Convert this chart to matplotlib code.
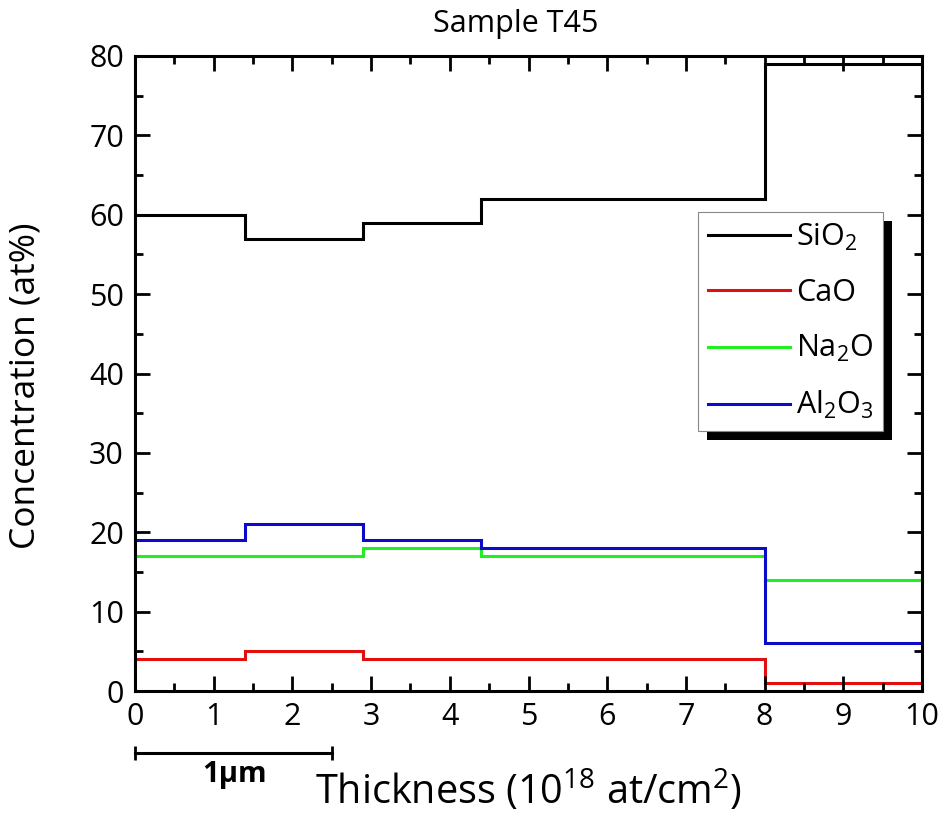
import matplotlib
matplotlib.use("Agg")
import matplotlib.pyplot as plt
from matplotlib.patches import Rectangle
from matplotlib.transforms import IdentityTransform, blended_transform_factory
from matplotlib.ticker import MultipleLocator

plt.rcParams['font.family'] = ['Open Sans', 'DejaVu Sans']
plt.rcParams['mathtext.fontset'] = 'custom'
plt.rcParams['mathtext.rm'] = 'Open Sans'
plt.rcParams['mathtext.it'] = 'Open Sans:italic'
plt.rcParams['mathtext.bf'] = 'Open Sans:bold'

# Layer boundaries (10^18 at/cm^2) and per-layer concentrations (at%)
edges = [0, 1.4, 2.9, 4.4, 8, 10]
sio2 = [60, 57, 59, 62, 79]
cao = [4, 5, 4, 4, 1]
na2o = [17, 17, 18, 17, 14]
al2o3 = [19, 21, 19, 18, 6]

series = [
    ("SiO$_2$", sio2, "#000000"),
    ("CaO", cao, "#e01010"),
    ("Na$_2$O", na2o, "#22ee22"),
    ("Al$_2$O$_3$", al2o3, "#0c0cc8"),
]

fig = plt.figure(figsize=(9.45, 8.21), dpi=100)
ax = fig.add_axes([0.1429, 0.1583, 0.8328, 0.7735])

for label, vals, color in series:
    ax.stairs(vals, edges, baseline=None, color=color, linewidth=2.2, label=label)

ax.set_xlim(0, 10)
ax.set_ylim(0, 80)
ax.xaxis.set_major_locator(MultipleLocator(1))
ax.xaxis.set_minor_locator(MultipleLocator(0.5))
ax.yaxis.set_major_locator(MultipleLocator(10))
ax.yaxis.set_minor_locator(MultipleLocator(5))
ax.tick_params(which='both', direction='in', top=True, right=True, width=2.0)
ax.tick_params(which='major', length=11, labelsize=22, pad=8)
ax.tick_params(which='minor', length=6)
for sp in ax.spines.values():
    sp.set_linewidth(2.2)

ax.set_title("Sample T45", fontsize=22, pad=17, x=0.484)
ax.set_ylabel("Concentration (at%)", fontsize=25.5)
ax.yaxis.set_label_coords(-0.117, 0.48)

bt = blended_transform_factory(ax.transData, ax.transAxes)

# x-axis label placed below the scale bar
ax.text(5.0, -0.158, "Thickness (10$^{18}$ at/cm$^2$)", fontsize=28.5,
        transform=bt, ha='center', va='center')

# 1 µm scale bar
ax.plot([0, 2.5], [-0.097, -0.097], color='black', lw=2.2, transform=bt,
        clip_on=False, marker='|', markersize=10, markeredgewidth=2)
ax.text(1.27, -0.132, "1µm", fontsize=21, fontweight='bold', transform=bt,
        ha='center', va='center')

leg = ax.legend(loc='upper left', bbox_to_anchor=(0.715, 0.754), fontsize=22,
                frameon=True, fancybox=False, edgecolor='#888888',
                facecolor='white', framealpha=1.0,
                handlelength=2.7, handletextpad=0.2, labelspacing=0.82,
                borderpad=0.32, borderaxespad=0)
leg.get_frame().set_linewidth(0.8)
leg.set_zorder(6)

# Solid drop shadow behind the legend box
fig.canvas.draw()
bb = leg.get_frame().get_window_extent()
shadow = Rectangle((bb.x0 + 9, bb.y0 - 9), bb.width, bb.height,
                   transform=IdentityTransform(), facecolor='black',
                   edgecolor='none', zorder=5.5, clip_on=False)
ax.add_patch(shadow)

fig.savefig("out.png", dpi=100)
